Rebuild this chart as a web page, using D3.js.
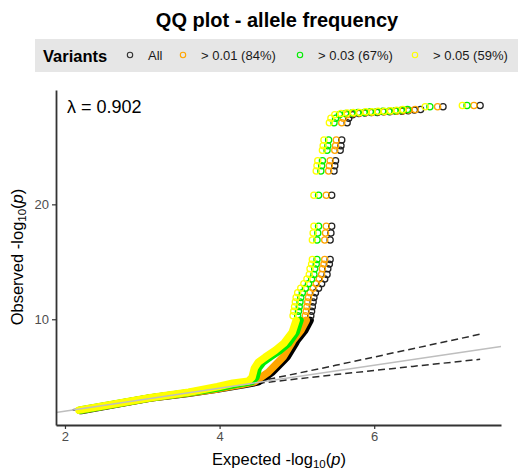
<!DOCTYPE html>
<html><head><meta charset="utf-8">
<script src="https://cdn.jsdelivr.net/npm/d3@7"></script>
<style>body{margin:0;background:#fff}svg{display:block}text{font-family:"Liberation Sans",Arial,Helvetica,sans-serif}</style>
</head><body><svg id="c" width="518" height="475"></svg>
<script>
// ---------- data ----------
const seriesNames = ["All", "> 0.01 (84%)", "> 0.03 (67%)", "> 0.05 (59%)"];
const seriesColors = ["#000000", "#FFA500", "#00EE00", "#FFFF00"];
const xTicks = [2, 4, 6];
const yTicks = [10, 20];
const lambdaValue = "0.902";

// dense lower part (overlapping circles form a solid band)
const allBandX    = [2.21, 3.10, 3.60, 3.97, 4.30, 4.50, 4.57, 4.68, 4.83, 4.87, 4.98, 5.00, 5.10, 5.17];
const allBandY    = [2.06, 3.14, 3.56, 3.92, 4.30, 4.55, 4.87, 5.39, 6.43, 6.70, 7.90, 8.17, 9.00, 9.90];
const af01BandX   = [2.20, 3.10, 3.60, 3.97, 4.28, 4.45, 4.52, 4.63, 4.78, 4.82, 4.93, 4.95, 5.05, 5.12];
const af01BandY   = [2.07, 3.15, 3.58, 3.94, 4.32, 4.55, 4.87, 5.39, 6.43, 6.70, 7.90, 8.17, 9.00, 9.90];
const af03BandX   = [2.19, 3.10, 3.60, 3.97, 4.22, 4.42, 4.47, 4.50, 4.56, 4.65, 4.78, 4.89, 4.99, 5.04];
const af03BandY   = [2.08, 3.16, 3.62, 4.02, 4.36, 4.58, 4.95, 5.74, 6.26, 6.70, 7.30, 7.90, 8.87, 9.90];
const af05BandX   = [2.18, 3.10, 3.60, 3.97, 4.17, 4.37, 4.42, 4.45, 4.50, 4.59, 4.72, 4.83, 4.94, 4.99];
const af05BandY   = [2.09, 3.17, 3.65, 4.13, 4.43, 4.62, 4.95, 5.74, 6.26, 6.70, 7.30, 7.90, 8.87, 9.90];

// sparse upper part (individual circles); observed values shared by all series
const topObserved = [10.3,10.7,11.1,11.5,11.9,12.3,12.7,13.1, 13.5,13.9,14.4,14.8,15.2, 16.9,17.5,18.1, 20.8,
  22.9,23.35,23.8, 24.7,25.1,25.6,
  27.1,27.5,27.8,27.9,27.95,28.0,28.0,28.05,28.05,28.1,28.1,28.15,28.2,28.25,28.5,28.6];
const allTopX  = [5.18,5.19,5.20,5.21,5.22,5.24,5.28,5.32, 5.36,5.39,5.40,5.42,5.43, 5.43,5.44,5.45, 5.45,
  5.48,5.49,5.50, 5.56,5.57,5.58,
  5.65,5.67,5.72,5.80,5.88,5.96,6.04,6.12,6.20,6.28,6.36,6.44,6.52,6.60,6.89,7.37];
const af01TopX = [5.11,5.12,5.13,5.14,5.15,5.17,5.21,5.25, 5.29,5.32,5.33,5.35,5.36, 5.36,5.37,5.38, 5.38,
  5.41,5.42,5.43, 5.49,5.50,5.51,
  5.58,5.60,5.65,5.73,5.81,5.89,5.97,6.05,6.13,6.21,6.29,6.37,6.45,6.53,6.82,7.29];
const af03TopX = [5.01,5.02,5.03,5.04,5.05,5.07,5.11,5.15, 5.19,5.22,5.23,5.25,5.26, 5.26,5.27,5.28, 5.28,
  5.31,5.32,5.33, 5.39,5.40,5.41,
  5.48,5.50,5.55,5.63,5.71,5.79,5.87,5.95,6.03,6.11,6.19,6.27,6.35,6.43,6.72,7.20];
const af05TopX = [4.95,4.96,4.97,4.98,4.99,5.01,5.05,5.09, 5.13,5.16,5.17,5.19,5.20, 5.20,5.21,5.22, 5.22,
  5.25,5.26,5.27, 5.33,5.34,5.35,
  5.42,5.44,5.49,5.57,5.65,5.73,5.81,5.89,5.97,6.05,6.13,6.21,6.29,6.37,6.66,7.14];

// confidence band (dashed)
const ciExpected = [2.10, 4.40, 5.50, 6.50, 7.37];
const ciUpper    = [2.12, 4.45, 5.99, 7.44, 8.70];
const ciLower    = [2.08, 4.35, 5.19, 5.90, 6.52];

// ---------- drawing ----------
const svg = d3.select("#c");
const x = d3.scaleLinear().domain([1.884, 7.64]).range([56, 501]);
const y = d3.scaleLinear().domain([0.8, 29.95]).range([425, 90]);

const bandsX = [allBandX, af01BandX, af03BandX, af05BandX];
const bandsY = [allBandY, af01BandY, af03BandY, af05BandY];
const topsX = [allTopX, af01TopX, af03TopX, af05TopX];

// title
svg.append("text").attr("x", 277).attr("y", 27).attr("text-anchor", "middle")
  .attr("font-size", 20).attr("font-weight", "bold").attr("fill", "#000").text("QQ plot - allele frequency");

// legend
svg.append("rect").attr("x", 35).attr("y", 39).attr("width", 483).attr("height", 33).attr("fill", "#E6E6E6");
svg.append("text").attr("x", 43).attr("y", 62).attr("font-size", 16.5).attr("font-weight", "bold").text("Variants");
const legX = [130, 183, 300, 415];
seriesNames.forEach((n, i) => {
  svg.append("circle").attr("cx", legX[i]).attr("cy", 55).attr("r", 2.7)
    .attr("fill", "none").attr("stroke", seriesColors[i] === "#000000" ? "#333" : seriesColors[i]).attr("stroke-width", 1.1);
  svg.append("text").attr("x", legX[i] + 18).attr("y", 59.5).attr("font-size", 13).attr("fill", "#1a1a1a").text(n);
});

// dashed CI
const ciLine = d3.line().x(d => x(d[0])).y(d => y(d[1]));
[ciUpper, ciLower].forEach(arr => {
  svg.append("path").attr("d", ciLine(ciExpected.map((e, i) => [e, arr[i]])))
    .attr("fill", "none").attr("stroke", "#2b2b2b").attr("stroke-width", 1.5).attr("stroke-dasharray", "7,4");
});

// series
seriesNames.forEach((n, i) => {
  const g = svg.append("g");
  const pts = bandsX[i].map((v, k) => [v, bandsY[i][k]]);
  g.append("path").attr("d", d3.line().x(d => x(d[0])).y(d => y(d[1]))(pts))
    .attr("fill", "none").attr("stroke", seriesColors[i]).attr("stroke-width", 7.5)
    .attr("stroke-linecap", "round").attr("stroke-linejoin", "round");
  g.selectAll("circle").data(topsX[i].map((v, k) => [v, topObserved[k]])).join("circle")
    .attr("cx", d => x(d[0])).attr("cy", d => y(d[1])).attr("r", 3.1)
    .attr("fill", "none").attr("stroke", seriesColors[i] === "#000000" ? "#222" : seriesColors[i]).attr("stroke-width", 1.25);
});

// identity line
svg.append("line").attr("x1", x(1.884)).attr("y1", y(1.884)).attr("x2", x(7.64)).attr("y2", y(7.64))
  .attr("stroke", "#BEBEBE").attr("stroke-width", 1.5);

// axes
const ax = svg.append("g").attr("transform", "translate(0,425)")
  .call(d3.axisBottom(x).tickValues(xTicks).tickFormat(d3.format("d")).tickSize(4).tickSizeOuter(0).tickPadding(3));
const ay = svg.append("g").attr("transform", "translate(56,0)")
  .call(d3.axisLeft(y).tickValues(yTicks).tickFormat(d3.format("d")).tickSize(4).tickSizeOuter(0).tickPadding(3));
[ax, ay].forEach(a => {
  a.select(".domain").attr("stroke", "#333").attr("stroke-width", 1.8);
  a.selectAll(".tick line").attr("stroke", "#333").attr("stroke-width", 1.2);
  a.selectAll(".tick text").attr("fill", "#4D4D4D").attr("font-size", 13)
    .attr("font-family", '"Liberation Sans",Arial,sans-serif');
});

// lambda
svg.append("text").attr("x", 67).attr("y", 113).attr("font-size", 18).attr("fill", "#000")
  .text("\u03BB = " + lambdaValue);

// axis titles
const xt = svg.append("text").attr("x", 279).attr("y", 465).attr("text-anchor", "middle").attr("font-size", 16.5).attr("fill", "#000");
xt.append("tspan").text("Expected -log");
xt.append("tspan").attr("font-size", 11.5).attr("dy", 3).text("10");
xt.append("tspan").attr("dy", -3).text("(");
xt.append("tspan").attr("font-style", "italic").text("p");
xt.append("tspan").text(")");

const yt = svg.append("text").attr("transform", "translate(23,257) rotate(-90)").attr("text-anchor", "middle").attr("font-size", 16.5).attr("fill", "#000");
yt.append("tspan").text("Observed -log");
yt.append("tspan").attr("font-size", 11.5).attr("dy", 3).text("10");
yt.append("tspan").attr("dy", -3).text("(");
yt.append("tspan").attr("font-style", "italic").text("p");
yt.append("tspan").text(")");
</script></body></html>
